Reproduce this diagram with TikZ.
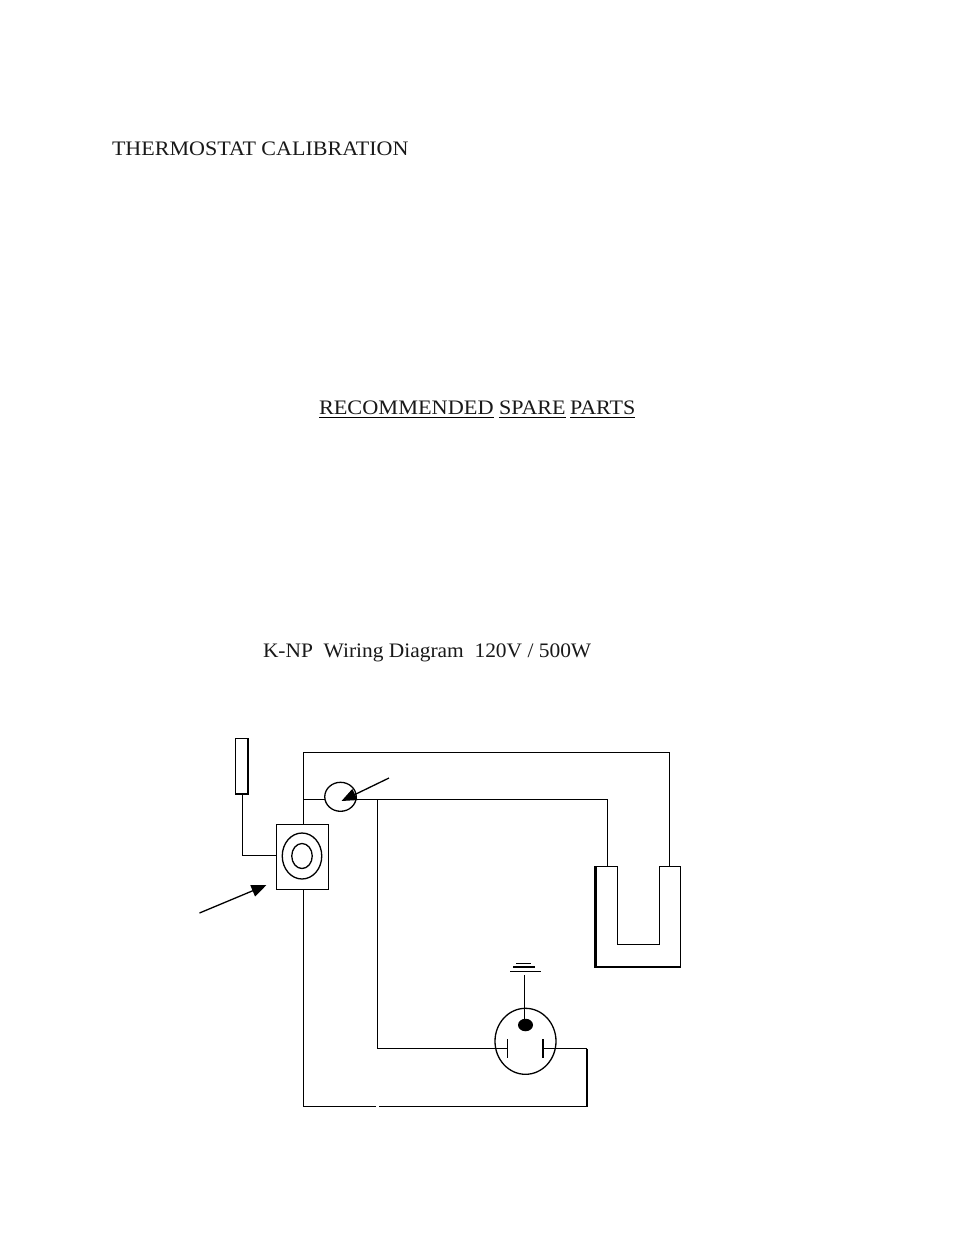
\documentclass[tikz,border=0pt]{standalone}
\usepackage{fontspec}
\setmainfont[FakeStretch=1.07]{Liberation Serif}
\newfontfamily\wdfont[FakeStretch=1.04]{Liberation Serif}
\newfontfamily\recfont[FakeStretch=1.082]{Liberation Serif}
\usetikzlibrary{arrows.meta,shapes.geometric}
\tikzset{
  wire/.style={line width=1.6pt,line join=miter},
  thick wire/.style={line width=2.2pt},
  part/.style={draw,line width=1.6pt,inner sep=0pt,outer sep=0pt,fill=white},
  ringpart/.style={draw,line width=1.3pt,ellipse,inner sep=0pt,outer sep=0pt},
  pointer/.style={line width=1.3pt,-{Triangle[length=15pt,width=12pt]}},
  txt/.style={inner sep=0pt,outer sep=0pt,anchor=base west,font=\fontsize{20.6pt}{24pt}\selectfont,text=black!90},
  under/.style={line width=1.2pt}
}
\begin{document}
\begin{tikzpicture}[x=1pt,y=-1pt]
\useasboundingbox (0,0) rectangle (954,1235);
\fill[white] (0,0) rectangle (954,1235);

% texts
\node[txt] (title) at (112,155) {THERMOSTAT CALIBRATION};
\node[txt] (rec) at (319,414) {\recfont RECOMMENDED};
\node[txt] (spare) at (499,414) {SPARE};
\node[txt] (parts) at (570,414) {PARTS};
\draw[under] (rec.south west |- 0,417.5) -- (rec.south east |- 0,417.5);
\draw[under] (spare.south west |- 0,417.5) -- (spare.south east |- 0,417.5);
\draw[under] (parts.south west |- 0,417.5) -- (parts.south east |- 0,417.5);
\node[txt] (wd) at (263,657) {\wdfont K-NP\ \ Wiring Diagram\ \ 120V / 500W};

% named junctions
\coordinate (tTop) at (303.5,824.5);
\coordinate (tBot) at (303.5,889.5);
\coordinate (c1) at (303.5,752.5);
\coordinate (c2) at (669.5,752.5);
\coordinate (hR) at (669.5,866.5);
\coordinate (tap) at (303.5,799.5);
\coordinate (j) at (377.5,799.5);
\coordinate (c3) at (607.5,799.5);
\coordinate (hL) at (607.5,866.5);
\coordinate (c4) at (377.5,1048.5);
\coordinate (bl) at (507.5,1048.5);
\coordinate (br) at (543,1048.5);
\coordinate (c5) at (587,1048.5);
\coordinate (c6) at (587,1106.5);
\coordinate (gapR) at (379,1106.5);
\coordinate (gapL) at (376,1106.5);
\coordinate (c7) at (303.5,1106.5);
\coordinate (senseB) at (242.5,794);
\coordinate (c8) at (242.5,855.5);
\coordinate (tL) at (276.5,855.5);
\coordinate (g1) at (524.5,975);
\coordinate (a1s) at (389,778);
\coordinate (a1e) at (341.5,801);
\coordinate (a2s) at (199.5,913);
\coordinate (a2e) at (266.5,885);

% parts
\node[part,minimum width=13pt,minimum height=55.5pt] (sensor) at (241.8,766.2) {};
\draw[line width=2pt] (sensor.north east) -- (sensor.south east);
\node[part,minimum width=52pt,minimum height=65pt] (tstat) at (302.5,857) {};
\node[ringpart,minimum width=39.5pt,minimum height=46pt] (ringO) at (302,856) {};
\node[ringpart,minimum width=20.5pt,minimum height=25pt] (ringI) at (302,856) {};
\node[ringpart,minimum width=31.5pt,minimum height=29pt] (light) at (340.5,796.8) {};
\node[ringpart,minimum width=61pt,minimum height=66pt] (outlet) at (525.5,1041.3) {};
\node[ellipse,fill=black,inner sep=0pt,minimum width=15pt,minimum height=12.5pt] (gnd) at (525.5,1025) {};

% wires
\draw[wire] (tTop) -- (c1) -- (c2) -- (hR);
\draw[wire] (tap) -- (tap -| light.west);
\draw[wire] (light.east |- j) -- (c3) -- (hL);
\draw[wire] (j) -- (c4) -- (bl);
\draw[wire] (br) -- (c5);
\draw[thick wire] (c5) -- (c6);
\draw[wire] (c6) -- (gapR);
\draw[wire] (gapL) -- (c7) -- (tBot);
\draw[wire] (senseB) -- (c8) -- (tL);
\draw[wire] (g1) -- (g1 |- gnd);
\draw[wire] (507.5,1039) -- (507.5,1058);
\draw[line width=2pt] (543,1039) -- (543,1058);

% ground
\draw[line width=1.2pt] (510,971.5) -- (541,971.5);
\draw[line width=1.2pt] (513,967) -- (535,967);
\draw[line width=1.2pt] (516,963.5) -- (531,963.5);

% heater
\draw[wire] (595.5,866.5) -- (617.5,866.5) -- (617.5,944.5) -- (659.5,944.5) -- (659.5,866.5) -- (680.5,866.5) -- (680.5,966.7);
\draw[line width=2.4pt] (595.5,866) -- (595.5,966.7) -- (681,966.7);

% arrows
\draw[pointer] (a1s) -- (a1e);
\draw[pointer] (a2s) -- (a2e);
\end{tikzpicture}
\end{document}
